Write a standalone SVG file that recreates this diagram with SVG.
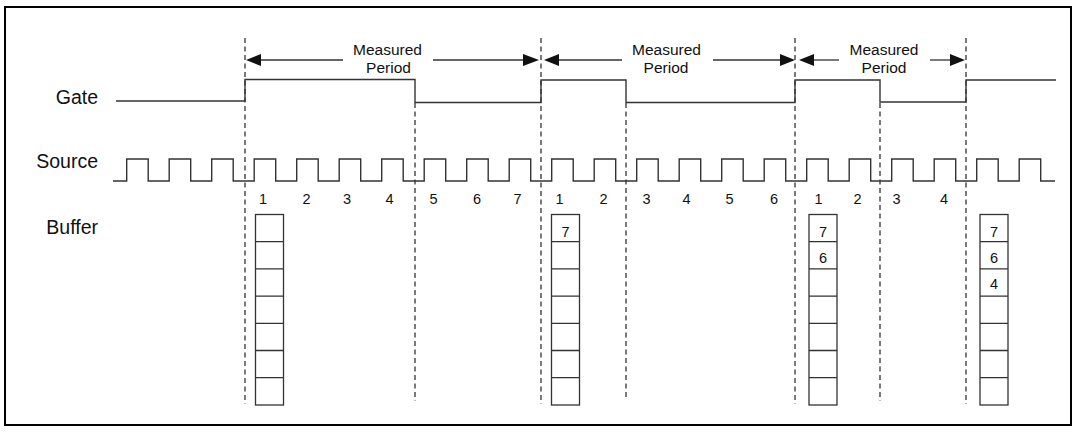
<svg xmlns="http://www.w3.org/2000/svg" width="1077" height="432" viewBox="0 0 1077 432">
<style>
.frame{fill:none;stroke:#000;stroke-width:2}
.wave{fill:none;stroke:#333;stroke-width:1.4}
.dash{fill:none;stroke:#333;stroke-width:1.3;stroke-dasharray:5 3.5}
.arr{fill:none;stroke:#333;stroke-width:1.3}
.head{fill:#111}
.cell{fill:#fff;stroke:#333;stroke-width:1.3}
.lbl{font-family:"Liberation Sans",Arial,sans-serif;font-size:19.5px;fill:#111;text-anchor:end}
.mp{font-family:"Liberation Sans",Arial,sans-serif;font-size:15.5px;fill:#111;text-anchor:middle}
.num{font-family:"Liberation Sans",Arial,sans-serif;font-size:14.5px;fill:#111;text-anchor:middle}
</style>
<rect class="frame" x="5" y="7" width="1066" height="418"/>
<g id="labels">
<text class="lbl" x="98" y="104">Gate</text>
<text class="lbl" x="98" y="168">Source</text>
<text class="lbl" x="98" y="234">Buffer</text>
</g>
<g id="gate">
<path class="wave" d="M116,101 H245 V79.5 H415 V102.5 H541 V80 H626 V102.5 H795 V80 H880 V102 H966 V80 H1056"/>
</g>
<g id="source">
<path class="wave" d="M113,181 H126.7 V159 H148.2 V181 H169.2 V159 H190.7 V181 H211.7 V159 H233.2 V181 H254.2 V159 H275.7 V181 H296.7 V159 H318.2 V181 H339.2 V159 H360.7 V181 H381.7 V159 H403.2 V181 H424.2 V159 H445.7 V181 H466.7 V159 H488.2 V181 H509.2 V159 H530.7 V181 H551.7 V159 H573.2 V181 H594.2 V159 H615.7 V181 H636.7 V159 H658.2 V181 H679.2 V159 H700.7 V181 H721.7 V159 H743.2 V181 H764.2 V159 H785.7 V181 H806.7 V159 H828.2 V181 H849.2 V159 H870.7 V181 H891.7 V159 H913.2 V181 H934.2 V159 H955.7 V181 H976.7 V159 H998.2 V181 H1019.2 V159 H1040.7 V181 H1055"/>
</g>
<g id="counts">
<text class="num" x="263" y="204">1</text>
<text class="num" x="306.5" y="204">2</text>
<text class="num" x="347" y="204">3</text>
<text class="num" x="389.5" y="204">4</text>
<text class="num" x="433.5" y="204">5</text>
<text class="num" x="477" y="204">6</text>
<text class="num" x="517.5" y="204">7</text>
<text class="num" x="559.5" y="204">1</text>
<text class="num" x="603.5" y="204">2</text>
<text class="num" x="646.5" y="204">3</text>
<text class="num" x="686.5" y="204">4</text>
<text class="num" x="729.5" y="204">5</text>
<text class="num" x="774" y="204">6</text>
<text class="num" x="818.5" y="204">1</text>
<text class="num" x="857.5" y="204">2</text>
<text class="num" x="896.5" y="204">3</text>
<text class="num" x="944" y="204">4</text>
</g>
<g id="connectors">
<line class="dash" x1="245" y1="38" x2="245" y2="404"/>
<line class="dash" x1="415" y1="103" x2="415" y2="401"/>
<line class="dash" x1="541" y1="38" x2="541" y2="404"/>
<line class="dash" x1="626" y1="103" x2="626" y2="400"/>
<line class="dash" x1="795" y1="38" x2="795" y2="404"/>
<line class="dash" x1="880" y1="103" x2="880" y2="401"/>
<line class="dash" x1="966" y1="38" x2="966" y2="404"/>
<line class="arr" x1="260" y1="60" x2="343" y2="60"/>
<polygon class="head" points="246,60 261,54 261,66"/>
<line class="arr" x1="433" y1="60" x2="524" y2="60"/>
<polygon class="head" points="539,60 523,54 523,66"/>
<line class="arr" x1="558" y1="60" x2="622" y2="60"/>
<polygon class="head" points="544,60 559,54 559,66"/>
<line class="arr" x1="713" y1="60" x2="781" y2="60"/>
<polygon class="head" points="795,60 780,54 780,66"/>
<line class="arr" x1="813" y1="60" x2="839" y2="60"/>
<polygon class="head" points="799,60 814,54 814,66"/>
<line class="arr" x1="930" y1="60" x2="951" y2="60"/>
<polygon class="head" points="965,60 950,54 950,66"/>
</g>
<g id="periods">
<text class="mp" x="387.5" y="55">Measured</text>
<text class="mp" x="388.5" y="73">Period</text>
<text class="mp" x="666.5" y="55">Measured</text>
<text class="mp" x="666" y="73">Period</text>
<text class="mp" x="884" y="55">Measured</text>
<text class="mp" x="884" y="73">Period</text>
</g>
<defs>
<g id="buf">
<rect class="cell" x="0" y="0" width="28" height="190.5"/>
<path class="cell" d="M0,27.2 H28 M0,54.4 H28 M0,81.6 H28 M0,108.8 H28 M0,136 H28 M0,163.2 H28"/>
</g>
</defs>
<g id="buffer1"><use href="#buf" x="255.5" y="214.5"/></g>
<g id="buffer2"><use href="#buf" x="551.5" y="214.5"/>
<text class="num" x="565.5" y="236.5">7</text></g>
<g id="buffer3"><use href="#buf" x="809" y="214.5"/>
<text class="num" x="823" y="236.5">7</text>
<text class="num" x="823" y="263">6</text></g>
<g id="buffer4"><use href="#buf" x="980" y="214.5"/>
<text class="num" x="994" y="236.5">7</text>
<text class="num" x="994" y="263">6</text>
<text class="num" x="994" y="288.5">4</text></g>
</svg>
